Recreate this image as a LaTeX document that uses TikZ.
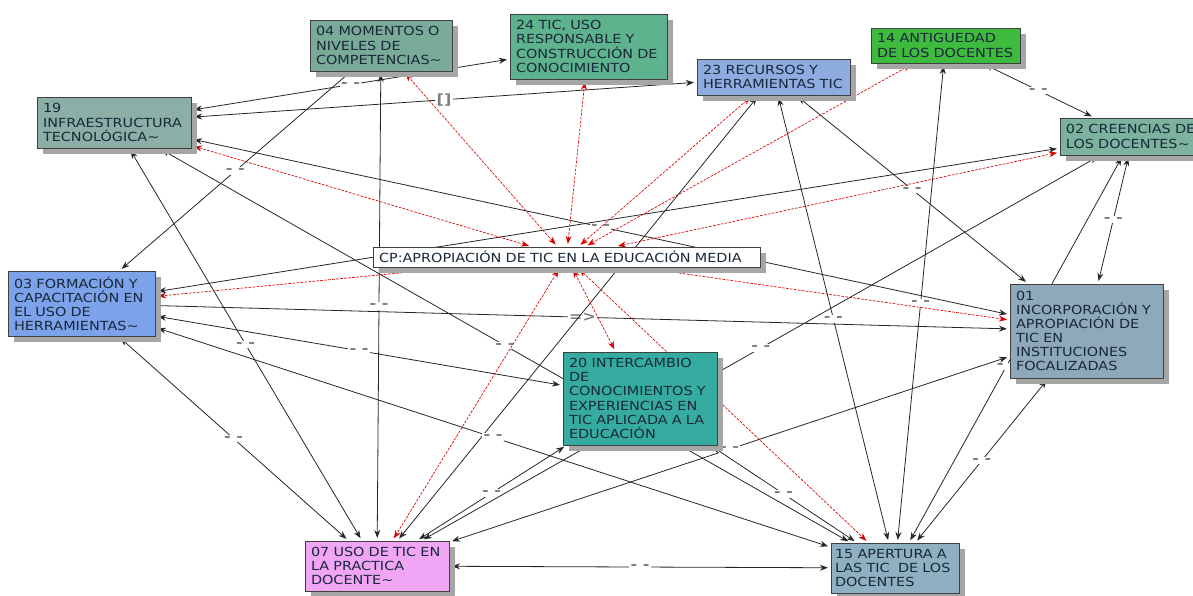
\documentclass[tikz,border=0pt]{standalone}
\usepackage{fontspec}
\setmainfont[FakeStretch=1.15]{DejaVu Sans}
\usetikzlibrary{backgrounds,shadows,arrows.meta}
\definecolor{colorC19}{RGB}{139,175,166}
\definecolor{colorC04}{RGB}{122,170,152}
\definecolor{colorC24}{RGB}{94,178,142}
\definecolor{colorC23}{RGB}{142,172,224}
\definecolor{colorC14}{RGB}{62,186,62}
\definecolor{colorC02}{RGB}{124,178,158}
\definecolor{colorC03}{RGB}{124,162,234}
\definecolor{colorC01}{RGB}{142,170,186}
\definecolor{colorC20}{RGB}{54,172,160}
\definecolor{colorC07}{RGB}{240,166,245}
\definecolor{colorC15}{RGB}{142,176,192}
\definecolor{colorTXT}{RGB}{25,40,58}
\colorlet{colorCPL}{red!85!black}
\colorlet{colorLAB}{black!50}
\tikzset{
   every path/.style={>={Stealth[length=6pt,width=4.5pt]}},
   cbox/.style 2 args={draw=black!75,line width=0.6pt,fill=#1,text width=#2,align=left,
      inner xsep=4.5pt,inner ysep=2pt,font=\fontsize{9.4}{10.6}\selectfont,text=colorTXT,
      drop shadow={shadow xshift=4.5pt,shadow yshift=-4.5pt,fill=black!35,opacity=1}},
   lnk/.style={<->,color=black!85,line width=0.6pt,shorten >=2pt,shorten <=2pt},
   cpl/.style={<->,color=colorCPL,line width=0.5pt,dash pattern=on 2pt off 1pt,shorten >=2pt,shorten <=2pt},
   lab/.style={fill=white,inner sep=1pt,text=colorLAB,font=\bfseries\fontsize{10.5}{10.5}\selectfont},
}

\begin{document}
\begin{tikzpicture}[x=0.75pt,y=-0.75pt]
      \useasboundingbox (0,0) rectangle (1193,596);
      \node[cbox={colorC19}{106.5pt},minimum height=38.25pt] (c19) at (114,122.5) {19\\INFRAESTRUCTURA\\TECNOLÓGICA\textasciitilde};
      \node[cbox={colorC04}{97.5pt},minimum height=38.25pt] (c04) at (381,45.5) {04 MOMENTOS O\\NIVELES DE\\COMPETENCIAS\textasciitilde};
      \node[cbox={colorC24}{108.75pt},minimum height=48.75pt] (c24) at (588.5,46.5) {24 TIC, USO\\RESPONSABLE Y\\CONSTRUCCIÓN DE\\CONOCIMIENTO};
      \node[cbox={colorC23}{105.75pt},minimum height=27pt] (c23) at (773.5,77) {23 RECURSOS Y\\HERRAMIENTAS TIC};
      \node[cbox={colorC14}{102.75pt},minimum height=26.25pt] (c14) at (945.5,45.5) {14 ANTIGUEDAD\\DE LOS DOCENTES};
      \node[cbox={colorC02}{101pt},minimum height=27.75pt] (c02) at (1133.3,136.5) {02 CREENCIAS DE\\LOS DOCENTES\textasciitilde};
      \node[cbox={white}{281.25pt},minimum height=15pt,inner ysep=1pt] (cp) at (566.5,257) {CP:APROPIACIÓN DE TIC EN LA EDUCACIÓN MEDIA};
      \node[cbox={colorC03}{101.25pt},minimum height=48.75pt] (c03) at (81.5,303.5) {03 FORMACIÓN Y\\CAPACITACIÓN EN\\EL USO DE\\HERRAMIENTAS\textasciitilde};
      \node[cbox={colorC01}{105.75pt},minimum height=70.5pt] (c01) at (1086.5,331) {01\\INCORPORACIÓN Y\\APROPIACIÓN DE\\TIC EN\\INSTITUCIONES\\FOCALIZADAS};
      \node[cbox={colorC20}{106.5pt},minimum height=69.75pt] (c20) at (640,398.5) {20 INTERCAMBIO\\DE\\CONOCIMIENTOS Y\\EXPERIENCIAS EN\\TIC APLICADA A LA\\EDUCACIÓN};
      \node[cbox={colorC07}{99pt},minimum height=37.5pt] (c07) at (377,566) {07 USO DE TIC EN\\LA PRACTICA\\DOCENTE\textasciitilde};
      \node[cbox={colorC15}{90pt},minimum height=37.5pt,inner xsep=3pt] (c15) at (895,568) {15 APERTURA A\\LAS TIC\ \ DE LOS\\DOCENTES};
      \begin{scope}[on background layer]
      \draw[lnk] (c19) -- node[lab]{- -} (c24);
      \draw[lnk] (c19) -- node[lab]{[]} (c23);
      \draw[lnk,->] (c04) -- node[lab]{- -} (c03);
      \draw[lnk] (c04) -- node[lab]{- -} (c07);
      \draw[lnk] (c19) -- node[lab]{- -} (c01);
      \draw[lnk] (c03) -- (c02);
      \draw[lnk,{Circle[length=2.5pt]}->] (c03) -- node[lab]{=>} (c01);
      \draw[lnk] (c07) -- (c23);
      \draw[lnk] (c19) -- node[lab]{- -} (c07);
      \draw[lnk] (c19) -- node[lab]{- -} (c15);
      \draw[lnk] (c03) -- node[lab]{- -} (c20);
      \draw[lnk] (c03) -- node[lab]{- -} (c15);
      \draw[lnk] (c03) -- node[lab]{- -} (c07);
      \draw[lnk] (c07) -- node[lab]{- -} (c20);
      \draw[lnk] (c07) -- node[lab]{- -} (c02);
      \draw[lnk] (c07) -- node[lab]{- -} (c01);
      \draw[lnk] (c07) -- node[lab]{- -} (c15);
      \draw[lnk] (c20) -- node[lab]{- -} (c15);
      \draw[lnk] (c23) -- node[lab]{- -} (c01);
      \draw[lnk] (c23) -- node[lab]{- -} (c15);
      \draw[lnk] (c14) -- node[lab]{- -} (c15);
      \draw[lnk] (c14) -- node[lab]{- -} (c02);
      \draw[lnk] (c02) -- node[lab]{- -} (c01);
      \draw[lnk] (c02) -- node[lab,pos=0.545]{- -} (c15);
      \draw[lnk] (c01) -- node[lab]{- -} (c15);
      \draw[cpl] (cp) -- (c19);
      \draw[cpl] (cp) -- (c04);
      \draw[cpl] (cp) -- (c24);
      \draw[cpl] (cp) -- (c23);
      \draw[cpl] (cp) -- (c14);
      \draw[cpl] (cp) -- (c02);
      \draw[cpl] (cp) -- (c03);
      \draw[cpl] (cp) -- (c01);
      \draw[cpl] (cp) -- (c20);
      \draw[cpl] (cp) -- (c07);
      \draw[cpl] (cp) -- (c15);
      \end{scope}
    \end{tikzpicture}
\end{document}
